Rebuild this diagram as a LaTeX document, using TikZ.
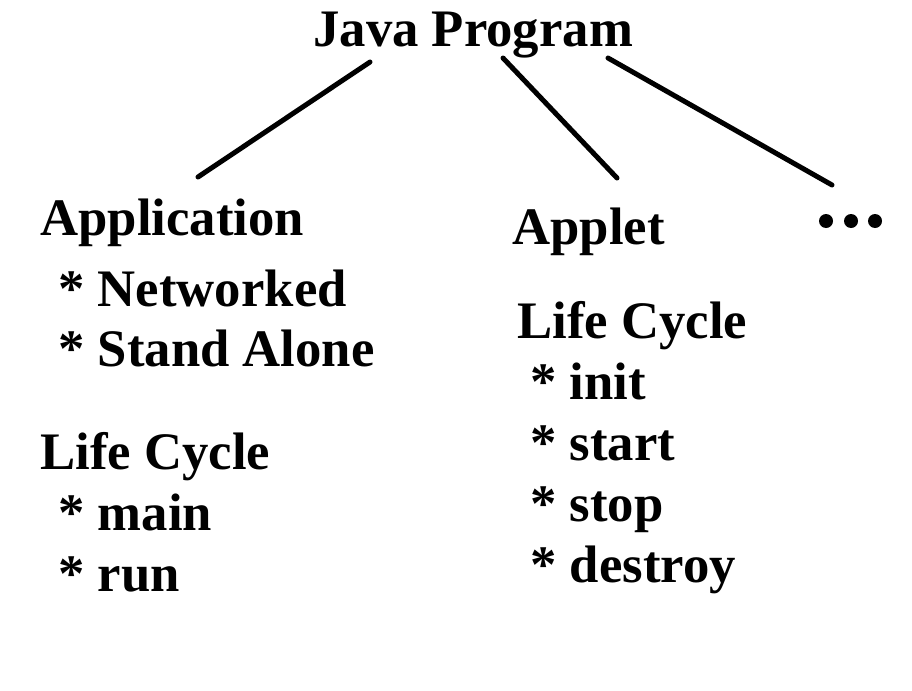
\documentclass[tikz,border=0pt]{standalone}
\usepackage{fontspec}
\setmainfont{Liberation Serif}
\usetikzlibrary{positioning}
\tikzset{
  label/.style={anchor=base west,inner sep=0pt,
    font=\fontsize{30}{36}\selectfont\bfseries},
  branch/.style={line width=1.0mm,line cap=round},
  moredot/.style={fill=black,draw=none,circle,minimum size=0.28cm,inner sep=0pt},
}

\begin{document}
\begin{tikzpicture}[x=0.02cm,y=-0.02cm]
    \useasboundingbox (0,0) rectangle (912,690);
    % root
    \node[label] (root) at (313,46) {Java Program};
    % left branch
    \node[label] (app)     at (40,235)  {Application};
    \node[label] (net)     at (58,306)  {* Networked};
    \node[label] (alone)   at (58,366)  {* Stand Alone};
    \node[label] (applc)   at (40,469)  {Life Cycle};
    \node[label] (main)    at (58,530)  {* main};
    \node[label] (run)     at (58,591)  {* run};
    % middle branch
    \node[label] (applet)  at (512,244) {Applet};
    \node[label] (letlc)   at (517,338) {Life Cycle};
    \node[label] (init)    at (530,399) {* init};
    \node[label] (start)   at (530,460) {* start};
    \node[label] (stop)    at (530,521) {* stop};
    \node[label] (destroy) at (530,582) {* destroy};
    % more
    \foreach \i/\x in {1/826,2/851,3/875}
      \node[moredot] (more\i) at (\x,221) {};
    % connectors
    \coordinate (r1) at (370,62);
    \coordinate (r2) at (503,58);
    \coordinate (r3) at (608,58);
    \coordinate (c1) at (198,177);
    \coordinate (c2) at (617,178);
    \coordinate (c3) at (832,185);
    \draw[branch] (r1) -- (c1);
    \draw[branch] (r2) -- (c2);
    \draw[branch] (r3) -- (c3);
\end{tikzpicture}
\end{document}
